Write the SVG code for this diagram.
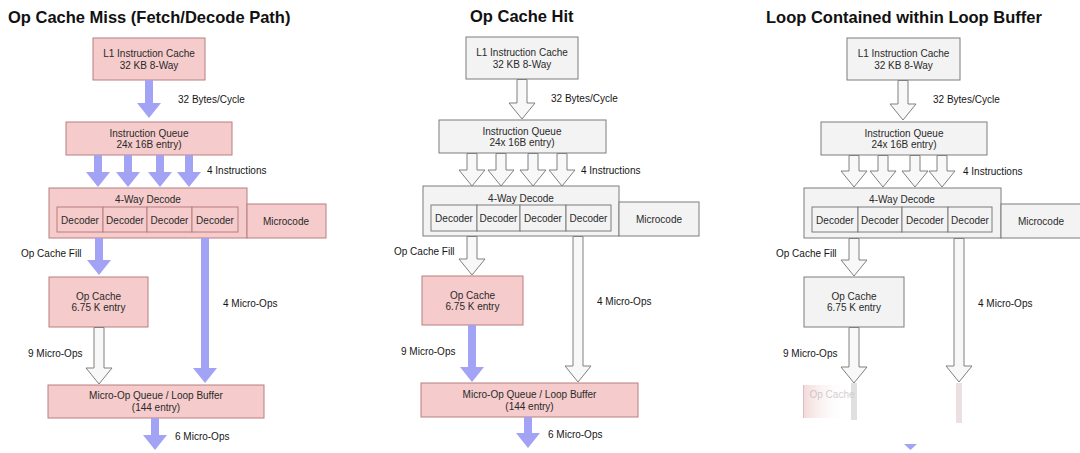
<svg xmlns="http://www.w3.org/2000/svg" width="1080" height="453" viewBox="0 0 1080 453">
<defs>
<style>
.pk{fill:#f5cbcb;stroke:#b87f7f;stroke-width:1}
.gy{fill:#f3f3f3;stroke:#7d7d7d;stroke-width:1}
.bl{fill:#a3a3f6;stroke:none}
.ol{fill:#f8f8f8;stroke:#808080;stroke-width:1;stroke-linejoin:miter}
.t{font-family:"Liberation Sans",Arial,sans-serif;font-size:10px;fill:#2a2a2a;text-anchor:middle}
.lb{font-family:"Liberation Sans",Arial,sans-serif;font-size:10px;fill:#151515}
.ti{font-family:"Liberation Sans",Arial,sans-serif;font-size:16.5px;font-weight:bold;fill:#111}
</style>
<linearGradient id="fade" x1="0" y1="0" x2="1" y2="0">
<stop offset="0" stop-color="#e9b3b3"/>
<stop offset="1" stop-color="#ffffff" stop-opacity="0"/>
</linearGradient>
</defs>
<rect width="1080" height="453" fill="#ffffff"/>

<!-- Titles -->
<text class="ti" x="8" y="23">Op Cache Miss (Fetch/Decode Path)</text>
<text class="ti" x="470" y="22">Op Cache Hit</text>
<text class="ti" x="766" y="23">Loop Contained within Loop Buffer</text>

<!-- Panel 1 nodes -->
<g id="p1-l1"><rect class="pk" x="93" y="38" width="112" height="42"/><text class="t" x="149" y="57">L1 Instruction Cache</text><text class="t" x="149" y="69">32 KB 8-Way</text></g>
<g id="p1-iq"><rect class="pk" x="66" y="122" width="166" height="33"/><text class="t" x="149" y="137">Instruction Queue</text><text class="t" x="149" y="148">24x 16B entry)</text></g>
<g id="p1-dec"><rect class="pk" x="49" y="188" width="198" height="50"/><text class="t" x="148" y="203">4-Way Decode</text>
<rect class="pk" x="57" y="207" width="46" height="25"/><rect class="pk" x="103" y="207" width="44" height="25"/><rect class="pk" x="147" y="207" width="45" height="25"/><rect class="pk" x="192" y="207" width="46" height="25"/>
<text class="t" x="80" y="224">Decoder</text><text class="t" x="125" y="224">Decoder</text><text class="t" x="169.5" y="224">Decoder</text><text class="t" x="215" y="224">Decoder</text></g>
<g id="p1-mc"><rect class="pk" x="247" y="204" width="79" height="34"/><text class="t" x="286" y="225">Microcode</text></g>
<g id="p1-oc"><rect class="pk" x="49" y="277" width="99" height="50"/><text class="t" x="98.5" y="300">Op Cache</text><text class="t" x="98.5" y="311">6.75 K entry</text></g>
<g id="p1-moq"><rect class="pk" x="48" y="385" width="216" height="33"/><text class="t" x="156" y="399">Micro-Op Queue / Loop Buffer</text><text class="t" x="156" y="411">(144 entry)</text></g>

<!-- Panel 2 nodes -->
<g id="p2-l1"><rect class="gy" x="466" y="37" width="112" height="42"/><text class="t" x="522" y="56">L1 Instruction Cache</text><text class="t" x="522" y="68">32 KB 8-Way</text></g>
<g id="p2-iq"><rect class="gy" x="439" y="120" width="167" height="33"/><text class="t" x="522" y="135">Instruction Queue</text><text class="t" x="522" y="146">24x 16B entry)</text></g>
<g id="p2-dec"><rect class="gy" x="423" y="186" width="196" height="50"/><text class="t" x="521" y="202">4-Way Decode</text>
<rect class="gy" x="431" y="205" width="46" height="26"/><rect class="gy" x="477" y="205" width="43" height="26"/><rect class="gy" x="520" y="205" width="46" height="26"/><rect class="gy" x="566" y="205" width="45" height="26"/>
<text class="t" x="454" y="222">Decoder</text><text class="t" x="498.5" y="222">Decoder</text><text class="t" x="543" y="222">Decoder</text><text class="t" x="588.5" y="222">Decoder</text></g>
<g id="p2-mc"><rect class="gy" x="619" y="202" width="80" height="34"/><text class="t" x="659" y="223">Microcode</text></g>
<g id="p2-oc"><rect class="pk" x="422" y="276" width="101" height="49"/><text class="t" x="472.5" y="299">Op Cache</text><text class="t" x="472.5" y="310">6.75 K entry</text></g>
<g id="p2-moq"><rect class="pk" x="421" y="383" width="217" height="34"/><text class="t" x="529.5" y="398">Micro-Op Queue / Loop Buffer</text><text class="t" x="529.5" y="410">(144 entry)</text></g>

<!-- Panel 3 nodes -->
<g id="p3-l1"><rect class="gy" x="847" y="38" width="113" height="42"/><text class="t" x="903.5" y="57">L1 Instruction Cache</text><text class="t" x="903.5" y="69">32 KB 8-Way</text></g>
<g id="p3-iq"><rect class="gy" x="821" y="122" width="166" height="33"/><text class="t" x="904" y="137">Instruction Queue</text><text class="t" x="904" y="148">24x 16B entry)</text></g>
<g id="p3-dec"><rect class="gy" x="804" y="188" width="197" height="50"/><text class="t" x="902" y="203">4-Way Decode</text>
<rect class="gy" x="812" y="207" width="46" height="25"/><rect class="gy" x="858" y="207" width="44" height="25"/><rect class="gy" x="902" y="207" width="46" height="25"/><rect class="gy" x="948" y="207" width="44" height="25"/>
<text class="t" x="835" y="224">Decoder</text><text class="t" x="880" y="224">Decoder</text><text class="t" x="925" y="224">Decoder</text><text class="t" x="970" y="224">Decoder</text></g>
<g id="p3-mc"><rect class="gy" x="1001" y="204" width="82" height="34"/><text class="t" x="1041" y="225">Microcode</text></g>
<g id="p3-oc"><rect class="gy" x="804" y="277" width="100" height="50"/><text class="t" x="854" y="300">Op Cache</text><text class="t" x="854" y="311">6.75 K entry</text></g>
<g id="p3-ghost" opacity="0.5">
<rect x="803" y="385" width="42" height="33" fill="url(#fade)"/>
<line x1="803.5" y1="385" x2="803.5" y2="418" stroke="#b87f7f" stroke-width="1"/>
<text class="t" x="832" y="398" fill="#b0b0b0" opacity="0.45">Op Cache</text>
<rect x="851" y="383" width="6" height="37" fill="#9a9a9a" opacity="0.6"/>
<rect x="956" y="383" width="6" height="40" fill="#c9a5a5" opacity="0.7"/>
</g>

<!-- Connectors -->
<g id="connectors">
<polygon class="bl" points="145,80 153,80 153,103 161,103 149,118 137,103 145,103"/>
<polygon class="bl" points="94,155 102,155 102,172 110,172 98,187 86,172 94,172"/>
<polygon class="bl" points="124,155 132,155 132,172 140,172 128,187 116,172 124,172"/>
<polygon class="bl" points="156,155 164,155 164,172 172,172 160,187 148,172 156,172"/>
<polygon class="bl" points="185,155 193,155 193,172 201,172 189,187 177,172 185,172"/>
<polygon class="bl" points="95,238 103,238 103,260 111,260 99,275 87,260 95,260"/>
<polygon class="bl" points="201,238 209,238 209,368 217,368 205,383 193,368 201,368"/>
<polygon class="ol" points="94,327.5 104,327.5 104,368 112,368 99,384 86,368 94,368"/>
<polygon class="bl" points="151,418 159,418 159,435 167,435 155,450 143,435 151,435"/>

<polygon class="ol" points="517,79.5 527,79.5 527,103 535,103 522,119 509,103 517,103"/>
<polygon class="ol" points="467,153.5 477,153.5 477,170 485,170 472,186 459,170 467,170"/>
<polygon class="ol" points="496,153.5 506,153.5 506,170 514,170 501,186 488,170 496,170"/>
<polygon class="ol" points="528,153.5 538,153.5 538,170 546,170 533,186 520,170 528,170"/>
<polygon class="ol" points="557,153.5 567,153.5 567,170 575,170 562,186 549,170 557,170"/>
<polygon class="ol" points="467,236.5 477,236.5 477,259 485,259 472,275 459,259 467,259"/>
<polygon class="ol" points="573,236.5 583,236.5 583,366 591,366 578,382 565,366 573,366"/>
<polygon class="bl" points="468,325 476,325 476,367 484,367 472,382 460,367 468,367"/>
<polygon class="bl" points="524,417 532,417 532,433 540,433 528,448 516,433 524,433"/>

<polygon class="ol" points="898,80.5 908,80.5 908,104 916,104 903,120 890,104 898,104"/>
<polygon class="ol" points="849,155.5 859,155.5 859,171 867,171 854,187 841,171 849,171"/>
<polygon class="ol" points="878,155.5 888,155.5 888,171 896,171 883,187 870,171 878,171"/>
<polygon class="ol" points="910,155.5 920,155.5 920,171 928,171 915,187 902,171 910,171"/>
<polygon class="ol" points="937,155.5 947,155.5 947,171 955,171 942,187 929,171 937,171"/>
<polygon class="ol" points="849,238.5 859,238.5 859,260 867,260 854,276 841,260 849,260"/>
<polygon class="ol" points="954,238.5 964,238.5 964,366 972,366 959,382 946,366 954,366"/>
<polygon class="ol" points="849,327.5 859,327.5 859,367 867,367 854,383 841,367 849,367"/>
<polygon class="bl" points="904,444 917,444 910.5,450"/>
</g>

<!-- Connector labels -->
<g id="labels">
<text class="lb" x="178" y="103">32 Bytes/Cycle</text>
<text class="lb" x="207" y="174">4 Instructions</text>
<text class="lb" x="21" y="257">Op Cache Fill</text>
<text class="lb" x="223" y="307">4 Micro-Ops</text>
<text class="lb" x="28" y="357">9 Micro-Ops</text>
<text class="lb" x="175" y="440">6 Micro-Ops</text>

<text class="lb" x="551" y="102">32 Bytes/Cycle</text>
<text class="lb" x="581" y="174">4 Instructions</text>
<text class="lb" x="394" y="255">Op Cache Fill</text>
<text class="lb" x="597" y="305">4 Micro-Ops</text>
<text class="lb" x="401" y="355">9 Micro-Ops</text>
<text class="lb" x="548" y="438">6 Micro-Ops</text>

<text class="lb" x="933" y="103">32 Bytes/Cycle</text>
<text class="lb" x="963" y="175">4 Instructions</text>
<text class="lb" x="776" y="257">Op Cache Fill</text>
<text class="lb" x="978" y="307">4 Micro-Ops</text>
<text class="lb" x="783" y="357">9 Micro-Ops</text>
</g>
</svg>
